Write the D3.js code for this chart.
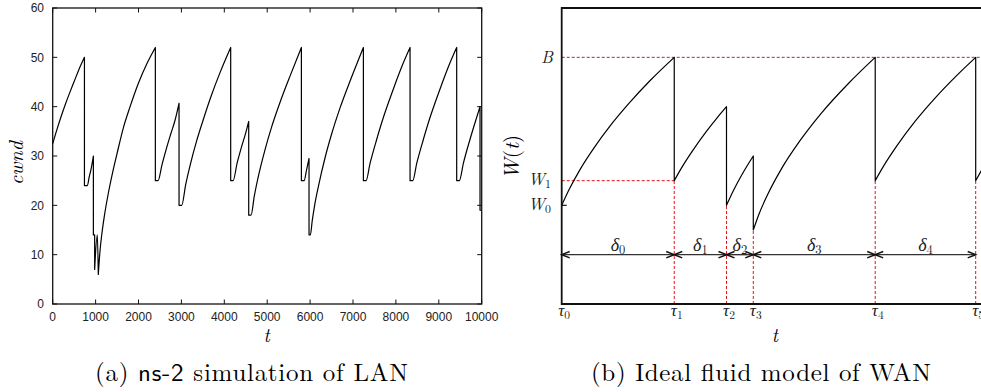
<!DOCTYPE html>
<html>
<head>
<meta charset="utf-8">
<script src="https://cdn.jsdelivr.net/npm/d3@7"></script>
<style>
  html, body { margin: 0; padding: 0; background: #fff; }
  svg { display: block; }
</style>
</head>
<body>
<svg id="fig" width="981" height="392"></svg>
<script>
const SERIF = "'Latin Modern Roman', 'CMU Serif', 'Liberation Serif', serif";
const SANSCAP = "'Latin Modern Sans', 'CMU Sans Serif', 'Liberation Sans', sans-serif";
const SANS = "'Liberation Sans', Arial, Helvetica, sans-serif";

// ---------- (a) ns-2 trace of cwnd over time ----------
const lanTicksX = [0, 1000, 2000, 3000, 4000, 5000, 6000, 7000, 8000, 9000, 10000];
const lanTicksY = [0, 10, 20, 30, 40, 50, 60];
// [t, cwnd] samples; a repeated t marks a window cut
const cwndTrace = [
  [0, 32.5], [100, 35.4], [200, 38.1], [300, 40.6], [400, 42.9], [500, 45.1], [600, 47.3], [740, 50],
  [740, 24], [808, 24], [850, 25.7], [900, 27.6], [948, 30],
  [948, 14], [978, 14],
  [978, 7], [1040, 14],
  [1063, 6],
  [1063, 6], [1100, 10.5], [1150, 14.5], [1200, 17.6], [1300, 22.6], [1400, 26.8], [1500, 30.5],
  [1650, 35.8], [1800, 39.9], [2000, 44.8], [2200, 48.8], [2393, 52],
  [2393, 25], [2455, 25], [2550, 28.3], [2650, 31.5], [2750, 34.4], [2850, 37.2], [2945, 40.7],
  [2945, 20], [3007, 20], [3100, 24.2], [3200, 28.0], [3350, 32.9], [3500, 37.1], [3700, 42.3],
  [3900, 46.9], [4149, 52],
  [4149, 25], [4204, 25], [4300, 28.6], [4400, 31.8], [4500, 34.7], [4569, 37],
  [4569, 18], [4623, 18], [4700, 21.9], [4800, 26.1], [4950, 31.3], [5100, 35.8], [5300, 40.9],
  [5550, 46.6], [5797, 52],
  [5797, 25], [5859, 25], [5920, 27.3], [5975, 29.5],
  [5975, 14], [6006, 14], [6050, 16.9], [6100, 19.7], [6200, 24.1], [6350, 29.7], [6500, 34.4],
  [6700, 39.8], [6950, 45.6], [7242, 52],
  [7242, 25], [7304, 25], [7400, 28.6], [7550, 33.3], [7700, 37.6], [7850, 41.4], [8000, 45.0],
  [8150, 48.4], [8330, 52],
  [8330, 25], [8392, 25], [8488, 28.6], [8638, 33.3], [8788, 37.6], [8938, 41.4], [9088, 45.0],
  [9238, 48.4], [9417, 52],
  [9417, 25], [9479, 25], [9575, 28.6], [9725, 33.3], [9875, 37.6], [9961, 40],
  [9961, 19], [10000, 19]
];

// ---------- (b) idealised fluid model ----------
const tauLabels = ["0", "1", "2", "3", "4", "5"];
const tauTimes = [0, 4200, 6150, 7150, 11700, 15450];
const deltaLabels = ["0", "1", "2", "3", "4"];
const levelB = 100, levelW1 = 50, levelW0 = 40, arrowLevel = 20;
const fluidTrace = [
  [0, 40], [300, 46.9], [700, 54.8], [1200, 63.2], [1800, 72.1], [2500, 81.2], [3300, 90.6], [4200, 100],
  [4200, 50], [4500, 55.7], [4900, 62.4], [5400, 70], [5800, 75.5], [6150, 80],
  [6150, 40], [6400, 45.8], [6750, 52.9], [7150, 60],
  [7150, 30], [7350, 36.1], [7700, 44.7], [8200, 54.8], [8900, 66.3], [9700, 77.5], [10700, 89.4], [11700, 100],
  [11700, 50], [12000, 55.7], [12500, 64.0], [13200, 74.2], [14000, 84.3], [14700, 92.2], [15450, 100],
  [15450, 50], [15700, 54.8], [16000, 60.0]
];
// trough heights right after each cut (dashed guides rise to these)
const cutFloors = [null, 50, 40, 30, 50, 50];

const svg = d3.select("#fig");

// Build a path of smooth runs joined by straight vertical cuts
function sawtoothPath(pts, xs, ys) {
  const runs = [];
  let cur = [pts[0]];
  for (let i = 1; i < pts.length; i++) {
    if (pts[i][0] === pts[i - 1][0]) { runs.push(cur); cur = [pts[i]]; }
    else cur.push(pts[i]);
  }
  runs.push(cur);
  const gen = d3.line().x(d => xs(d[0])).y(d => ys(d[1])).curve(d3.curveMonotoneX);
  return runs.map((r, i) => {
    const s = r.length > 1 ? gen(r) : `M${xs(r[0][0])},${ys(r[0][1])}`;
    return i === 0 ? s : "L" + s.slice(1);
  }).join("");
}

// ================= panel (a) =================
const ax = d3.scaleLinear().domain([0, 10000]).range([52.7, 481.7]);
const ay = d3.scaleLinear().domain([0, 60]).range([304, 8]);
const ga = svg.append("g");

ga.append("rect")
  .attr("x", ax(0)).attr("y", ay(60))
  .attr("width", ax(10000) - ax(0)).attr("height", ay(0) - ay(60))
  .attr("fill", "none").attr("stroke", "#111").attr("stroke-width", 1.3);

const tk = 4.5;
lanTicksX.forEach(v => {
  ga.append("line").attr("x1", ax(v)).attr("x2", ax(v)).attr("y1", ay(0)).attr("y2", ay(0) - tk)
    .attr("stroke", "#111").attr("stroke-width", 1);
  ga.append("line").attr("x1", ax(v)).attr("x2", ax(v)).attr("y1", ay(60)).attr("y2", ay(60) + tk)
    .attr("stroke", "#111").attr("stroke-width", 1);
  ga.append("text").attr("font-family", SANS).attr("x", ax(v)).attr("y", 320.5)
    .attr("text-anchor", "middle").attr("font-size", 12).attr("fill", "#222").text(v);
});
lanTicksY.forEach(v => {
  ga.append("line").attr("x1", ax(0)).attr("x2", ax(0) + tk).attr("y1", ay(v)).attr("y2", ay(v))
    .attr("stroke", "#111").attr("stroke-width", 1);
  ga.append("line").attr("x1", ax(10000)).attr("x2", ax(10000) - tk).attr("y1", ay(v)).attr("y2", ay(v))
    .attr("stroke", "#111").attr("stroke-width", 1);
  ga.append("text").attr("font-family", SANS).attr("x", 44).attr("y", ay(v) + 4.3)
    .attr("text-anchor", "end").attr("font-size", 12).attr("fill", "#222").text(v);
});

ga.append("path").attr("d", sawtoothPath(cwndTrace, ax, ay))
  .attr("fill", "none").attr("stroke", "#000").attr("stroke-width", 1.2).attr("stroke-linejoin", "round");

ga.append("text").attr("font-family", SERIF).attr("x", 266.7).attr("y", 342)
  .attr("text-anchor", "middle").attr("font-size", 19).attr("font-style", "italic").text("t");
ga.append("text").attr("font-family", SERIF)
  .attr("transform", "translate(23,163) rotate(-90)")
  .attr("text-anchor", "middle").attr("font-size", 20).attr("font-style", "italic").text("cwnd");

const capA = ga.append("text").attr("font-family", SERIF).attr("x", 95).attr("y", 381)
  .attr("font-size", 25).attr("textLength", 313).attr("lengthAdjust", "spacing");
capA.append("tspan").text("(a) ");
capA.append("tspan").attr("font-family", SANSCAP).text("ns-2");
capA.append("tspan").text(" simulation of LAN");

// ================= panel (b) =================
const bx = d3.scaleLinear().domain([0, 15450]).range([561.7, 975.7]);
const by = d3.scaleLinear().domain([0, 120]).range([304, 8]);
const gb = svg.append("g");

gb.append("defs").append("clipPath").attr("id", "clipB")
  .append("rect").attr("x", bx(0)).attr("y", by(120)).attr("width", 440).attr("height", by(0) - by(120));

const red = "#e0141e";
const dash = "3,2";

// horizontal guides at B and W1
gb.append("line").attr("x1", bx(0)).attr("x2", 1000).attr("y1", by(levelB)).attr("y2", by(levelB))
  .attr("stroke", red).attr("stroke-width", 1).attr("stroke-dasharray", dash);
gb.append("line").attr("x1", bx(0)).attr("x2", bx(tauTimes[1])).attr("y1", by(levelW1)).attr("y2", by(levelW1))
  .attr("stroke", red).attr("stroke-width", 1).attr("stroke-dasharray", dash);
// vertical guides at each cut time
tauTimes.forEach((t, i) => {
  if (cutFloors[i] === null) return;
  gb.append("line").attr("x1", bx(t)).attr("x2", bx(t)).attr("y1", by(0)).attr("y2", by(cutFloors[i]))
    .attr("stroke", red).attr("stroke-width", 1).attr("stroke-dasharray", dash);
});

// window trajectory
gb.append("path").attr("clip-path", "url(#clipB)")
  .attr("d", sawtoothPath(fluidTrace, bx, by))
  .attr("fill", "none").attr("stroke", "#000").attr("stroke-width", 1.2).attr("stroke-linejoin", "round");

// interval arrows
const ay0 = by(arrowLevel);
const head = (x, dir) => `M${x + dir * 8},${ay0 - 3.2}L${x},${ay0}L${x + dir * 8},${ay0 + 3.2}`;
for (let i = 0; i < tauTimes.length - 1; i++) {
  const x0 = bx(tauTimes[i]), x1 = bx(tauTimes[i + 1]);
  gb.append("line").attr("x1", x0).attr("x2", x1).attr("y1", ay0).attr("y2", ay0)
    .attr("stroke", "#333").attr("stroke-width", 1.4);
  gb.append("path").attr("d", head(x0, 1) + head(x1, -1))
    .attr("fill", "none").attr("stroke", "#111").attr("stroke-width", 1.5);
  const dl = gb.append("text").attr("font-family", SERIF).attr("x", (x0 + x1) / 2).attr("y", 251)
    .attr("text-anchor", "middle").attr("font-size", 18).attr("fill", "#222");
  dl.append("tspan").attr("font-style", "italic").text("δ");
  dl.append("tspan").attr("font-size", 12.5).attr("dy", 3).text(deltaLabels[i]);
}

// frame (left, bottom, top; right side runs past the edge)
gb.append("path")
  .attr("d", `M1000,${by(120)}L${bx(0)},${by(120)}L${bx(0)},${by(0)}L1000,${by(0)}`)
  .attr("fill", "none").attr("stroke", "#111").attr("stroke-width", 1.8);
// W0 tick
gb.append("line").attr("x1", bx(0)).attr("x2", bx(0) + 5).attr("y1", by(levelW0)).attr("y2", by(levelW0))
  .attr("stroke", "#111").attr("stroke-width", 1.2);

// y labels
function subLabel(g, x, y, main, sub, size) {
  const t = g.append("text").attr("font-family", SERIF).attr("x", x).attr("y", y)
    .attr("text-anchor", "end").attr("font-size", size).attr("fill", "#222");
  t.append("tspan").attr("font-style", "italic").text(main);
  if (sub !== null) t.append("tspan").attr("font-size", size * 0.7).attr("dy", 3).text(sub);
  return t;
}
subLabel(gb, 553, 62.5, "B", null, 17);
subLabel(gb, 551, 185, "W", "1", 17);
subLabel(gb, 551, 210, "W", "0", 17);

// tau labels
tauTimes.forEach((t, i) => {
  const lb = gb.append("text").attr("font-family", SERIF).attr("x", bx(t) + 2.5).attr("y", 316)
    .attr("text-anchor", "middle").attr("font-size", 17).attr("fill", "#222");
  lb.append("tspan").attr("font-style", "italic").text("τ");
  lb.append("tspan").attr("font-size", 11.5).attr("dy", 3).text(tauLabels[i]);
});

gb.append("text").attr("font-family", SERIF).attr("x", 775).attr("y", 342)
  .attr("text-anchor", "middle").attr("font-size", 19).attr("font-style", "italic").text("t");

const wl = gb.append("text").attr("font-family", SERIF)
  .attr("transform", "translate(519,157) rotate(-90)")
  .attr("text-anchor", "middle").attr("font-size", 21);
wl.append("tspan").attr("font-style", "italic").text("W");
wl.append("tspan").text("(");
wl.append("tspan").attr("font-style", "italic").text("t");
wl.append("tspan").text(")");

gb.append("text").attr("font-family", SERIF).attr("x", 591).attr("y", 381)
  .attr("font-size", 25).attr("textLength", 340).attr("lengthAdjust", "spacing")
  .text("(b) Ideal fluid model of WAN");
</script>
</body>
</html>
